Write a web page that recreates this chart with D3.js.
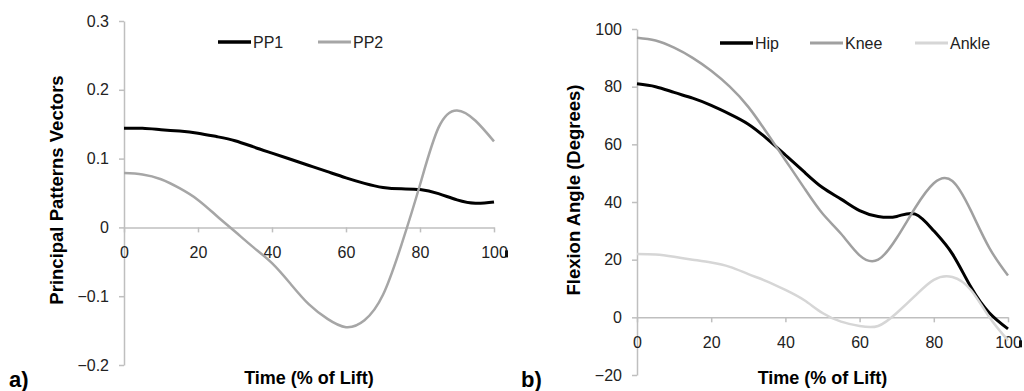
<!DOCTYPE html>
<html>
<head>
<meta charset="utf-8">
<script src="https://cdn.jsdelivr.net/npm/d3@7"></script>
<style>
  body { margin: 0; background: #fff; }
  svg { display: block; font-family: "Liberation Sans", Arial, sans-serif; }
</style>
</head>
<body>
<svg id="chart" width="1024" height="391"></svg>
<script>
// time axis, % of lift
const time = [0, 5, 10, 15, 20, 25, 30, 35, 40, 45, 50, 55, 60, 65, 70, 75, 80, 85, 90, 95, 100];

// panel a) principal patterns
const pp1 = [0.144, 0.144, 0.142, 0.140, 0.137, 0.132, 0.126, 0.117, 0.108, 0.099, 0.090, 0.081, 0.072, 0.064, 0.058, 0.056, 0.055, 0.049, 0.040, 0.035, 0.037];
const pp2 = [0.079, 0.077, 0.070, 0.057, 0.040, 0.017, -0.006, -0.029, -0.052, -0.082, -0.112, -0.133, -0.145, -0.135, -0.098, -0.025, 0.062, 0.145, 0.170, 0.155, 0.125];

// panel b) flexion angles
const hip   = [81, 80, 78, 76, 73.5, 70.5, 67, 62, 56.3, 50.5, 45, 41, 37, 35, 35, 35.8, 30, 22, 10.5, 1.5, -4];
const knee  = [97, 96, 93.5, 90, 85.5, 80, 73, 64, 54.5, 45, 36, 29, 21.5, 20, 27.5, 38, 46.5, 47.3, 37, 24, 14.5];
const ankle = [22, 21.8, 21, 20, 19, 17.5, 15, 12.5, 9.5, 6, 1.5, -1.5, -3, -3, 1.5, 7.5, 13, 14, 9.5, 0, -8];

const xTicks = [0, 20, 40, 60, 80, 100];
const yTicksA = [-0.2, -0.1, 0, 0.1, 0.2, 0.3];
const yTicksB = [-20, 0, 20, 40, 60, 80, 100];

const svg = d3.select('#chart');
const axisColor = '#bfbfbf';

function panel(opts) {
  const x = d3.scaleLinear().domain([0, 100]).range(opts.xRange);
  const y = d3.scaleLinear().domain(opts.yDomain).range(opts.yRange);
  const g = svg.append('g');

  // y axis
  const ya = g.append('g')
    .attr('transform', 'translate(' + opts.xRange[0] + ',0)')
    .call(d3.axisLeft(y).tickValues(opts.yTicks).tickSize(5).tickSizeOuter(0)
      .tickPadding(10).tickFormat(opts.yFormat));
  // x axis sits on zero
  const xa = g.append('g')
    .attr('transform', 'translate(0,' + y(0) + ')')
    .call(d3.axisBottom(x).tickValues(xTicks).tickSize(5).tickSizeOuter(0)
      .tickPadding(14).tickFormat(d3.format('d')));

  [ya, xa].forEach(function (a) {
    a.select('.domain').attr('stroke', axisColor).attr('stroke-width', 1.5);
    a.selectAll('.tick line').attr('stroke', axisColor).attr('stroke-width', 1.5);
    a.selectAll('.tick text').attr('fill', '#222').style('font-size', '16px');
  });

  // little marker after the last tick label
  const last = opts.xRange[1];
  g.append('rect').attr('x', last + 11).attr('y', y(0) + 23)
    .attr('width', 3).attr('height', 7).attr('fill', '#111');

  // series
  const line = d3.line()
    .x(function (d) { return x(d[0]); })
    .y(function (d) { return y(d[1]); })
    .curve(d3.curveNatural);

  opts.series.forEach(function (s) {
    g.append('path')
      .datum(time.map(function (t, i) { return [t, s.values[i]]; }))
      .attr('fill', 'none')
      .attr('stroke', s.color)
      .attr('stroke-width', s.width)
      .attr('d', line);
  });

  // legend
  opts.series.forEach(function (s, i) {
    const lx = opts.legendX[i];
    g.append('line')
      .attr('x1', lx).attr('x2', lx + 33)
      .attr('y1', opts.legendY).attr('y2', opts.legendY)
      .attr('stroke', s.color).attr('stroke-width', s.width + 0.5);
    g.append('text')
      .attr('x', lx + 35).attr('y', opts.legendY + 6)
      .attr('fill', '#222').style('font-size', '16px')
      .text(s.name);
  });

  // titles
  const cx = (opts.xRange[0] + opts.xRange[1]) / 2;
  g.append('text')
    .attr('x', cx).attr('y', 384)
    .attr('text-anchor', 'middle')
    .style('font-size', '18px').style('font-weight', 'bold')
    .text('Time (% of Lift)');

  g.append('text')
    .attr('transform', 'translate(' + opts.yTitleX + ',190) rotate(-90)')
    .attr('text-anchor', 'middle')
    .style('font-size', '18.5px').style('font-weight', 'bold')
    .text(opts.yTitle);

  g.append('text')
    .attr('x', opts.tagX).attr('y', 387)
    .style('font-size', '22px').style('font-weight', 'bold')
    .text(opts.tag);
}

panel({
  xRange: [124, 494],
  yDomain: [-0.2, 0.3],
  yRange: [365, 21],
  yTicks: yTicksA,
  yFormat: function (d) { return d === 0 ? '0' : d3.format('.1f')(d); },
  yTitle: 'Principal Patterns Vectors',
  yTitleX: 63,
  tag: 'a)',
  tagX: 9,
  legendX: [218, 318],
  legendY: 42,
  series: [
    { name: 'PP1', values: pp1, color: '#000', width: 3 },
    { name: 'PP2', values: pp2, color: '#a6a6a6', width: 2.5 }
  ]
});

panel({
  xRange: [637, 1008],
  yDomain: [-20, 100],
  yRange: [375, 29],
  yTicks: yTicksB,
  yFormat: d3.format('d'),
  yTitle: 'Flexion Angle (Degrees)',
  yTitleX: 580,
  tag: 'b)',
  tagX: 521,
  legendX: [720, 810, 915],
  legendY: 43,
  series: [
    { name: 'Hip', values: hip, color: '#000', width: 3 },
    { name: 'Knee', values: knee, color: '#a0a0a0', width: 2.5 },
    { name: 'Ankle', values: ankle, color: '#d6d6d6', width: 2.5 }
  ]
});
</script>
</body>
</html>
